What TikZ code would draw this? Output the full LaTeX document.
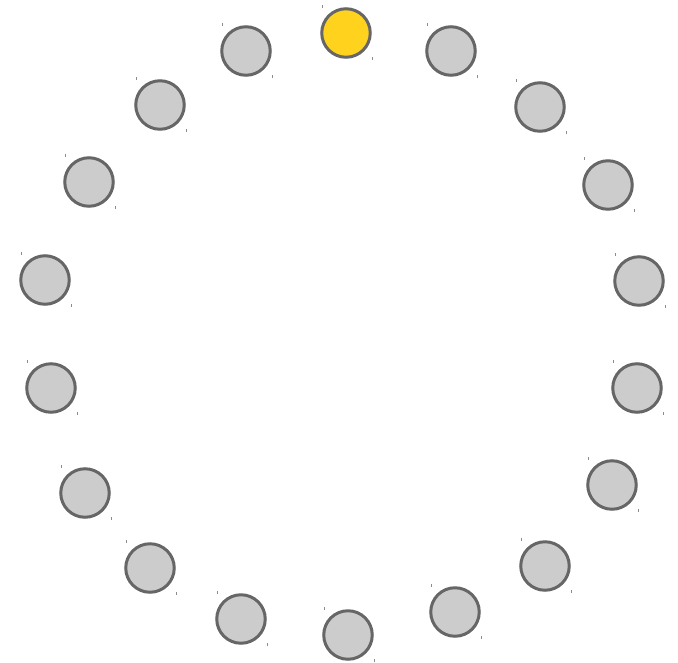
\documentclass[tikz,border=0pt]{standalone}
\definecolor{sun}{RGB}{255,210,30}
\definecolor{ring}{RGB}{102,102,102}
\definecolor{fillg}{RGB}{204,204,204}
\begin{document}
\begin{tikzpicture}[x=1pt,y=-1pt,
  dot/.style={circle,draw=ring,line width=3pt,fill=fillg,minimum size=48.5pt,inner sep=0pt},
  hot/.style={dot,fill=sun},
  tick/.style={draw=black!45,line width=0.7pt}]
\useasboundingbox (0,0) rectangle (678,662);
\foreach \n/\x/\y in {1/346/33,2/451/51,3/540/107,4/608/185,5/639/281,6/637/388,7/612/485,8/545/566,9/455/612,10/348/635,11/241/619,12/150/568,13/85/493,14/51/388,15/45/280,16/89/182,17/160/105,18/246/51}{
  \ifnum\n=1
    \node[hot] (c\n) at (\x,\y) {};
  \else
    \node[dot] (c\n) at (\x,\y) {};
  \fi
  \draw[tick] (\x-24,\y-28) -- (\x-24,\y-25);
  \draw[tick] (\x+26,\y+24) -- (\x+26,\y+27);
}
\end{tikzpicture}
\end{document}
